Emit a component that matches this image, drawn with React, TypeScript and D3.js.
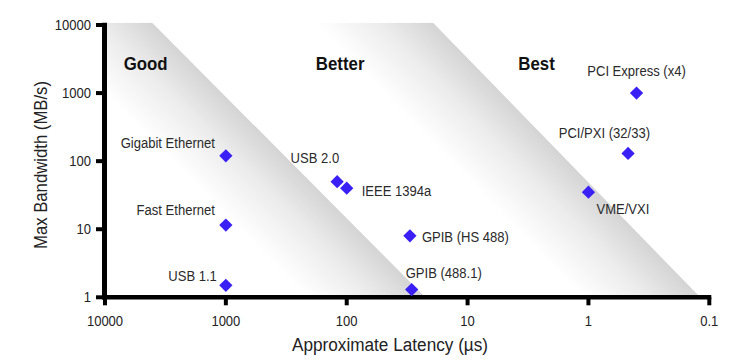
import React from "react";
import * as d3 from "d3";

// ---- data ----
const interfaces = [
  "Gigabit Ethernet",
  "Fast Ethernet",
  "USB 1.1",
  "USB 2.0",
  "IEEE 1394a",
  "GPIB (HS 488)",
  "GPIB (488.1)",
  "PCI Express (x4)",
  "PCI/PXI (32/33)",
  "VME/VXI",
];
const latencyUs = [1000, 1000, 1000, 120, 100, 30, 29, 0.4, 0.47, 1];
const bandwidthMBs = [120, 11.5, 1.5, 50, 40, 8, 1.3, 1000, 130, 35];

const xTicks = [10000, 1000, 100, 10, 1, 0.1];
const yTicks = [1, 10, 100, 1000, 10000];

const regionNames = ["Good", "Better", "Best"];
const regionLatency = [7000, 180, 3.8];
const regionBandwidth = 2200;

// shaded band diagonals: latency where the diagonal meets top (10000 MB/s) and bottom (1 MB/s)
const bandTopLatency = [3900, 18.5];
const bandBottomLatency = [22.4, 0.119];

// ---- layout ----
const W = 752;
const H = 364;
const X0 = 105;
const X1 = 709.3;
const Y0 = 297.3;
const Y1 = 25;
const PLOT_TOP = 22.7;

// label placement relative to the marker (pixels)
const labelPlacement: { dx: number; dy: number; anchor: string }[] = [
  { dx: -11, dy: -8, anchor: "end" },
  { dx: -11, dy: -10, anchor: "end" },
  { dx: -9, dy: -4, anchor: "end" },
  { dx: 2, dy: -19, anchor: "end" },
  { dx: 15, dy: 8, anchor: "start" },
  { dx: 12, dy: 6, anchor: "start" },
  { dx: -6, dy: -12, anchor: "start" },
  { dx: 0, dy: -17, anchor: "middle" },
  { dx: 22, dy: -15, anchor: "end" },
  { dx: 8, dy: 22, anchor: "start" },
];

function CText(props: {
  x: number;
  y: number;
  size: number;
  sx?: number;
  rotate?: number;
  anchor?: string;
  weight?: string;
  fill?: string;
  dy?: string;
  children: React.ReactNode;
}) {
  const { x, y, size, sx = 0.9, rotate = 0, anchor = "start", weight = "normal", fill = "#222", dy } = props;
  return (
    <text
      transform={`translate(${x},${y}) rotate(${rotate}) scale(${sx},1)`}
      fontSize={size}
      textAnchor={anchor}
      fontWeight={weight}
      fill={fill}
      dy={dy}
    >
      {props.children}
    </text>
  );
}

export default function App() {
  const x = d3.scaleLog().domain([10000, 0.1]).range([X0, X1]);
  const y = d3.scaleLog().domain([1, 10000]).range([Y0, Y1]);

  const bandWidthPx = 118;
  const font = "Liberation Sans, Arial, Helvetica, sans-serif";
  const diamond = d3.symbol(d3.symbolSquare, 88)() as string;

  const yTop = PLOT_TOP;
  const yBot = Y0;

  const bands = bandTopLatency.map((tl, i) => {
    const xt = x(tl);
    const xb = x(bandBottomLatency[i]);
    const slope = (xb - xt) / (yBot - y(10000));
    const xTopAdj = xt - slope * (y(10000) - yTop);
    const pts: [number, number][] = [
      [xTopAdj - bandWidthPx, yTop],
      [xTopAdj, yTop],
      [xb, yBot],
      [xb - bandWidthPx, yBot],
    ];
    const dx = xb - xTopAdj;
    const dy = yBot - yTop;
    const len = Math.hypot(dx, dy);
    const nx = dy / len;
    const ny = -dx / len;
    const perp = bandWidthPx * Math.abs(nx);
    return {
      pts,
      gx1: xTopAdj - nx * perp,
      gy1: yTop - ny * perp,
      gx2: xTopAdj,
      gy2: yTop,
    };
  });

  const line = d3.line();

  return (
    <svg
      width={W}
      height={H}
      style={{ position: "absolute", left: 0, top: 0, background: "#fff" }}
      fontFamily={font}
    >
      <defs>
        <clipPath id="plotClip">
          <rect x={X0} y={yTop} width={X1 - X0 + 2} height={yBot - yTop} />
        </clipPath>
        {bands.map((b, i) => (
          <linearGradient
            key={i}
            id={`band${i}`}
            gradientUnits="userSpaceOnUse"
            x1={b.gx1}
            y1={b.gy1}
            x2={b.gx2}
            y2={b.gy2}
          >
            <stop offset="0" stopColor="#ffffff" />
            <stop offset="0.55" stopColor="#ececec" />
            <stop offset="1" stopColor="#d4d4d4" />
          </linearGradient>
        ))}
      </defs>

      <g clipPath="url(#plotClip)">
        {bands.map((b, i) => (
          <path key={i} d={line(b.pts)! + "Z"} fill={`url(#band${i})`} />
        ))}
      </g>

      {/* region labels */}
      {regionNames.map((r, i) => (
        <CText key={r} x={x(regionLatency[i])} y={y(regionBandwidth)} size={18.5} sx={0.91} weight="bold" fill="#111">
          {r}
        </CText>
      ))}

      {/* axes */}
      <line x1={X0 - 0.5} x2={X0 - 0.5} y1={yTop} y2={Y0 + 2} stroke="#000" strokeWidth={5} />
      <line x1={X0 - 3} x2={X1 + 2} y1={Y0} y2={Y0} stroke="#000" strokeWidth={4.5} />
      {yTicks.map((t) => (
        <g key={t}>
          <line x1={X0 - 9} x2={X0} y1={y(t)} y2={y(t)} stroke="#000" strokeWidth={4} />
          <CText x={91} y={y(t)} dy="0.36em" anchor="end" size={14} sx={0.93}>
            {t}
          </CText>
        </g>
      ))}
      {xTicks.map((t) => (
        <g key={t}>
          <line x1={x(t)} x2={x(t)} y1={Y0} y2={Y0 + 8} stroke="#000" strokeWidth={4} />
          <CText x={x(t)} y={326} anchor="middle" size={14} sx={0.93}>
            {t}
          </CText>
        </g>
      ))}

      {/* axis titles */}
      <CText x={390} y={351} anchor="middle" size={19} sx={0.905}>
        Approximate Latency (µs)
      </CText>
      <CText x={47} y={165} rotate={-90} anchor="middle" size={18} sx={0.928}>
        Max Bandwidth (MB/s)
      </CText>

      {/* points */}
      {interfaces.map((name, i) => {
        const px = x(latencyUs[i]);
        const py = y(bandwidthMBs[i]);
        const lp = labelPlacement[i];
        return (
          <g key={name}>
            <path d={diamond} transform={`translate(${px},${py}) rotate(45)`} fill="#3a20f5" />
            <CText x={px + lp.dx} y={py + lp.dy} anchor={lp.anchor} size={14.5} sx={0.9} fill="#2a2a2a">
              {name}
            </CText>
          </g>
        );
      })}
    </svg>
  );
}
